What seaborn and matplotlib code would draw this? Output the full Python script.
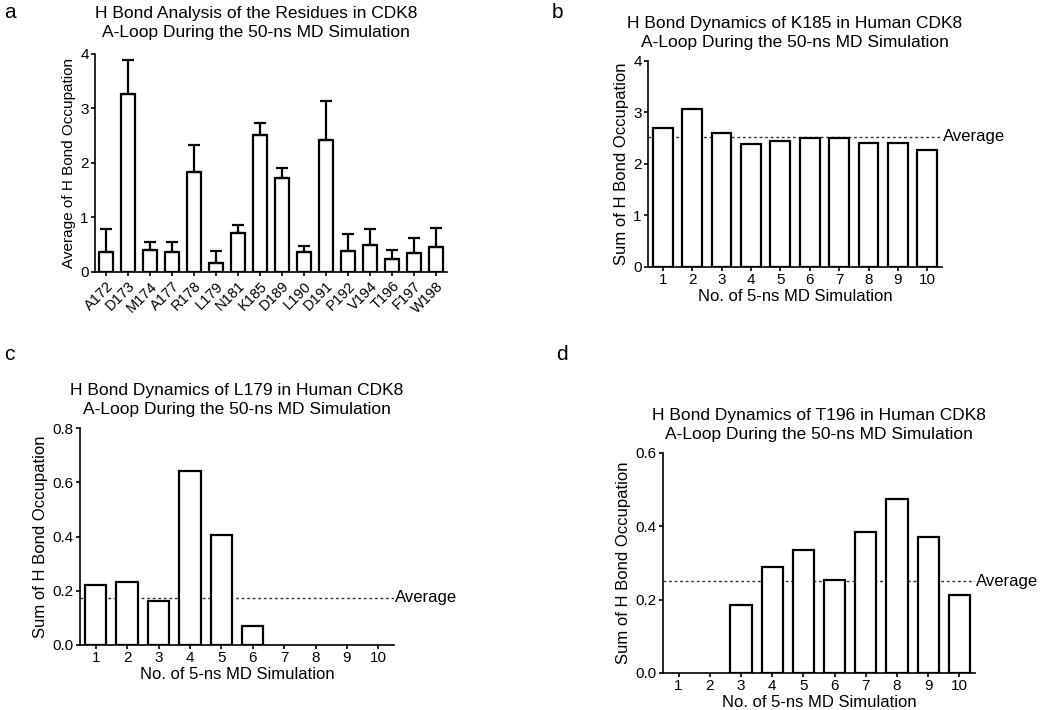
import numpy as np
import seaborn as sns
import matplotlib.pyplot as plt

# panel a: mean H bond occupation per residue, with upper error bar end
residues = ["A172", "D173", "M174", "A177", "R178", "L179", "N181", "K185",
            "D189", "L190", "D191", "P192", "V194", "T196", "F197", "W198"]
res_mean = [0.37, 3.27, 0.41, 0.36, 1.83, 0.17, 0.72, 2.51,
            1.73, 0.37, 2.42, 0.38, 0.49, 0.24, 0.34, 0.45]
res_sd = [0.42, 0.62, 0.14, 0.19, 0.50, 0.22, 0.14, 0.22,
          0.18, 0.11, 0.72, 0.32, 0.30, 0.16, 0.29, 0.36]

# panels b-d: sum of H bond occupation per 5-ns window
runs = [str(i) for i in range(1, 11)]
k185 = [2.70, 3.06, 2.60, 2.39, 2.45, 2.50, 2.50, 2.41, 2.41, 2.27]
l179 = [0.223, 0.231, 0.164, 0.641, 0.405, 0.069, 0.0, 0.0, 0.0, 0.0]
t196 = [0.0, 0.0, 0.186, 0.289, 0.336, 0.253, 0.384, 0.475, 0.371, 0.212]

sns.set_style("ticks")
plt.rcParams['font.family'] = ['Liberation Sans', 'DejaVu Sans']
plt.rcParams['text.color'] = 'black'
plt.rcParams['axes.labelcolor'] = 'black'
plt.rcParams['axes.linewidth'] = 1.2
plt.rcParams['xtick.major.width'] = 1.2
plt.rcParams['ytick.major.width'] = 1.2
plt.rcParams['xtick.major.size'] = 3
plt.rcParams['ytick.major.size'] = 3
plt.rcParams['xtick.major.pad'] = 1.5
plt.rcParams['ytick.major.pad'] = 1.5

W, H = 1050, 710
fig = plt.figure(figsize=(10.5, 7.1), dpi=100)


def add_ax(left, right, top, bottom):
    return fig.add_axes([left / W, 1 - bottom / H, (right - left) / W, (bottom - top) / H])


def style(ax):
    sns.despine(ax=ax)
    ax.tick_params(colors='black', direction='out')
    for s in ax.spines.values():
        s.set_color('black')
    # empty windows show no bar at all
    for p in ax.patches:
        if p.get_height() == 0:
            p.set_visible(False)


# ---- panel a
ax = add_ax(95, 447, 54, 272)
sns.barplot(x=residues, y=res_mean, color='white', saturation=1, edgecolor='black',
            linewidth=1.6, width=0.65, errorbar=None, ax=ax)
ax.errorbar(np.arange(len(residues)), res_mean, yerr=[np.zeros(len(res_sd)), res_sd],
            fmt='none', ecolor='black', elinewidth=1.6, capsize=4, capthick=1.6, zorder=1)
ax.set_xlim(-0.5, 15.5)
ax.set_ylim(0, 4)
ax.set_yticks([0, 1, 2, 3, 4])
ax.set_ylabel("Average of H Bond Occupation", fontsize=11, labelpad=3)
ax.tick_params(axis='y', labelsize=11)
ax.tick_params(axis='x', labelsize=10.5, rotation=45, pad=2)
for lab in ax.get_xticklabels():
    lab.set_ha('right')
    lab.set_rotation_mode('anchor')
ax.set_title("H Bond Analysis of the Residues in CDK8\nA-Loop During the 50-ns MD Simulation",
             fontsize=12.5, x=0.457, pad=12, linespacing=1.35)
style(ax)


def dyn_panel(box, vals, ylim, yticks, fmt, name):
    ax = add_ax(*box)
    sns.barplot(x=runs, y=vals, color='white', saturation=1, edgecolor='black',
                linewidth=1.6, width=0.68, errorbar=None, ax=ax)
    avg = np.mean(vals)
    ax.axhline(avg, ls=(0, (2, 2)), lw=1, color='#333333', zorder=0)
    ax.text(1.003, avg, "Average", transform=ax.get_yaxis_transform(),
            va='center', ha='left', fontsize=12, clip_on=False)
    ax.set_xlim(-0.5, 9.5)
    ax.set_ylim(*ylim)
    ax.set_yticks(yticks)
    ax.set_yticklabels([fmt.format(t) for t in yticks])
    ax.tick_params(labelsize=11)
    ax.set_xlabel("No. of 5-ns MD Simulation", fontsize=12, labelpad=1)
    ax.set_ylabel("Sum of H Bond Occupation", fontsize=12, labelpad=3)
    ax.set_title(f"H Bond Dynamics of {name} in Human CDK8\nA-Loop During the 50-ns MD Simulation",
                 fontsize=12.5, pad=10, linespacing=1.35)
    style(ax)
    return ax


dyn_panel((648, 942, 61, 267), k185, (0, 4), [0, 1, 2, 3, 4], "{:.0f}", "K185")
dyn_panel((80, 394, 428, 645), l179, (0, 0.8), [0, 0.2, 0.4, 0.6, 0.8], "{:.1f}", "L179")
dyn_panel((663, 975, 453, 673), t196, (0, 0.6), [0, 0.2, 0.4, 0.6], "{:.1f}", "T196")

for lab, x, y in [("a", 4, 13), ("b", 552, 12), ("c", 4, 354), ("d", 556, 355)]:
    fig.text(x / W, 1 - y / H, lab, fontsize=15, va='center', ha='left')

fig.savefig("out.png", dpi=100)
